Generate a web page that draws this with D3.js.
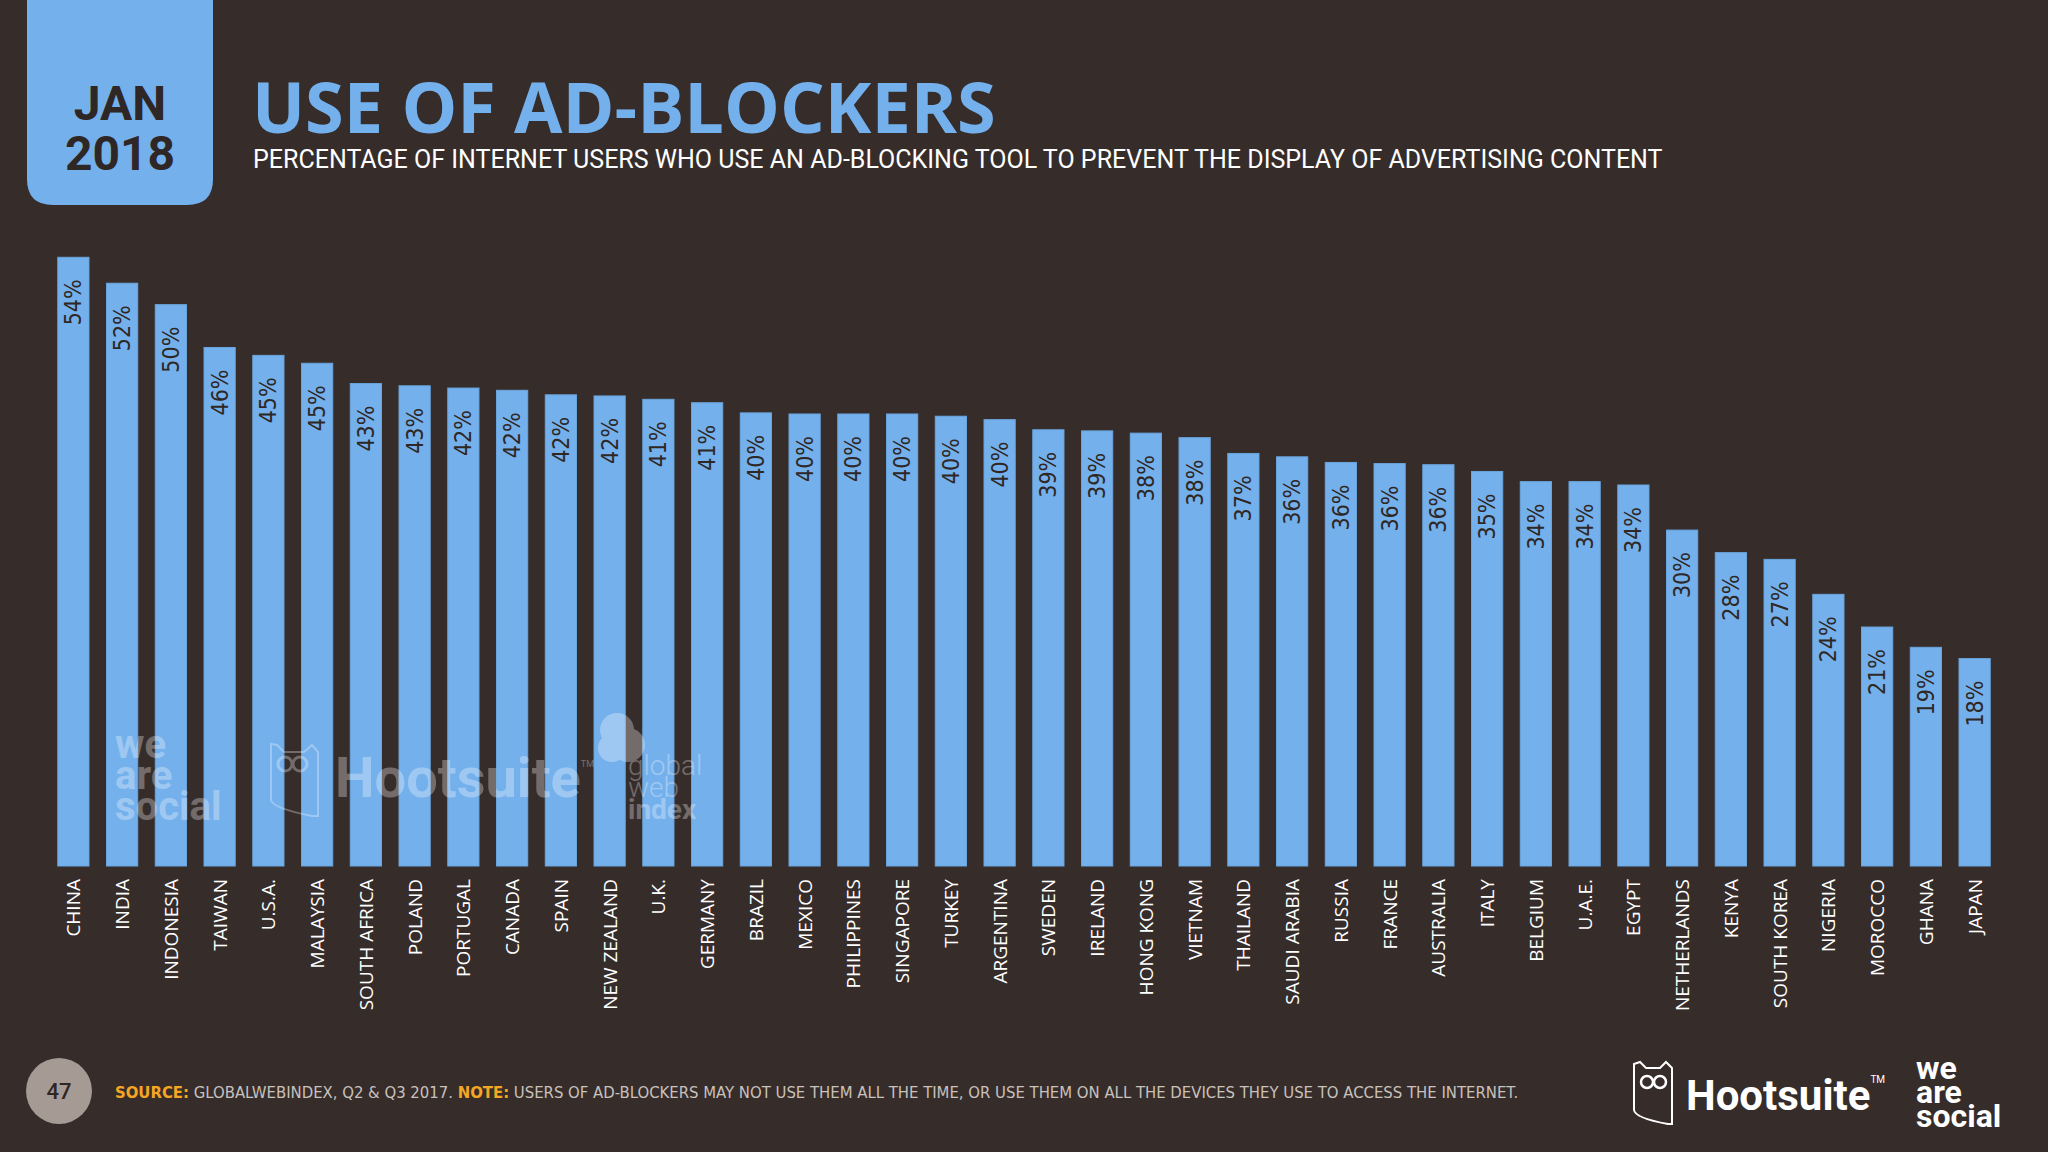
<!DOCTYPE html>
<html><head><meta charset="utf-8">
<script src="https://cdn.jsdelivr.net/npm/d3@7/dist/d3.min.js"></script>
<style>
html,body{margin:0;padding:0;background:#362d2b;overflow:hidden}
svg{display:block}
</style></head>
<body>
<script>
const countries = ["CHINA","INDIA","INDONESIA","TAIWAN","U.S.A.","MALAYSIA","SOUTH AFRICA","POLAND","PORTUGAL","CANADA","SPAIN","NEW ZEALAND","U.K.","GERMANY","BRAZIL","MEXICO","PHILIPPINES","SINGAPORE","TURKEY","ARGENTINA","SWEDEN","IRELAND","HONG KONG","VIETNAM","THAILAND","SAUDI ARABIA","RUSSIA","FRANCE","AUSTRALIA","ITALY","BELGIUM","U.A.E.","EGYPT","NETHERLANDS","KENYA","SOUTH KOREA","NIGERIA","MOROCCO","GHANA","JAPAN"];
const values = [54.0,51.7,49.8,46.0,45.3,44.6,42.8,42.6,42.4,42.2,41.8,41.7,41.4,41.1,40.2,40.1,40.1,40.1,39.9,39.6,38.7,38.6,38.4,38.0,36.6,36.3,35.8,35.7,35.6,35.0,34.1,34.1,33.8,29.8,27.8,27.2,24.1,21.2,19.4,18.4];
const titleText = "USE OF AD-BLOCKERS";
const subtitleText = "PERCENTAGE OF INTERNET USERS WHO USE AN AD-BLOCKING TOOL TO PREVENT THE DISPLAY OF ADVERTISING CONTENT";
const dateLines = ["JAN","2018"];
const pageNumber = "47";
const sourceLabel = "SOURCE:";
const sourceText = " GLOBALWEBINDEX, Q2 & Q3 2017. ";
const noteLabel = "NOTE:";
const noteText = " USERS OF AD-BLOCKERS MAY NOT USE THEM ALL THE TIME, OR USE THEM ON ALL THE DEVICES THEY USE TO ACCESS THE INTERNET.";
const wasLines = ["we","are","social"];
const gwiLines = ["global","web","index"];

const W = 2048, H = 1152;
const BG = "#362d2b", BLUE = "#74b1ec", DARK = "#2f2725";

const svg = d3.select("body").append("svg").attr("width", W).attr("height", H);
svg.append("rect").attr("width", W).attr("height", H).attr("fill", BG);

function fitWidth(sel, target) {
  const len = sel.node().getComputedTextLength();
  const fs = parseFloat(sel.attr("font-size"));
  sel.attr("font-size", (fs * target / len).toFixed(2));
}

// date box
const boxX = 27, boxW = 186, boxH = 205, r = 26;
svg.append("path")
  .attr("d", `M${boxX},0 H${boxX+boxW} V${boxH-r} Q${boxX+boxW},${boxH} ${boxX+boxW-r},${boxH} H${boxX+r} Q${boxX},${boxH} ${boxX},${boxH-r} Z`)
  .attr("fill", BLUE);
const dateT = svg.append("text").attr("text-anchor","middle")
  .attr("font-family","Roboto, 'Open Sans', sans-serif").attr("font-weight",700).attr("font-size",48)
  .attr("fill", DARK);
dateLines.forEach((s,i)=>{
  dateT.append("tspan").attr("x", boxX + boxW/2).attr("y", 120 + i*50).text(s);
});

// title
const t = svg.append("text").attr("x", 252).attr("y", 133)
  .attr("font-family","'Open Sans', Roboto, sans-serif").attr("font-weight",700).attr("font-size",72)
  .attr("fill", BLUE).text(titleText);
fitWidth(t, 744);
const st = svg.append("text").attr("x", 253).attr("y", 168)
  .attr("font-family","Roboto, sans-serif").attr("font-weight",400).attr("font-size",25)
  .attr("fill", "#ffffff").text(subtitleText);
fitWidth(st, 1410);

// scales
const baseY = 866;
const x = d3.scaleBand().domain(countries).range([49, 1999]).paddingInner(0.36).paddingOuter(0.18);
const y = d3.scaleLinear().domain([0, 54]).range([baseY, 257.3]);

// bars
const bars = svg.append("g");
bars.selectAll("rect").data(values).join("rect")
  .attr("x", (d,i) => x(countries[i]))
  .attr("y", d => y(d))
  .attr("width", x.bandwidth())
  .attr("height", d => baseY - y(d))
  .attr("fill", BLUE)
  .attr("stroke", "#6aa5dd").attr("stroke-width", 1);

// watermarks (drawn over bars)
const wm = svg.append("g").attr("fill","#ffffff").attr("opacity",0.3);
const wmw = wm.append("text").attr("font-family","Roboto, sans-serif").attr("font-weight",700).attr("font-size",40);
wasLines.forEach((s,i)=>{ wmw.append("tspan").attr("x",115).attr("y",758+i*31).text(s); });
const wmh = wm.append("text").attr("x",335).attr("y",797).attr("font-family","Roboto, sans-serif")
  .attr("font-weight",700).attr("font-size",56);
wmh.append("tspan").text("Hootsuite");
wmh.append("tspan").attr("font-size",9).attr("font-weight",400).attr("dy",-30).text("TM");
wm.append("path").attr("d","M271,744 L271,800 Q272,808 312,816 L318,816 L318,752 L312,745 L304,752 L284,752 L277,745 Z")
  .attr("fill","none").attr("stroke","#ffffff").attr("stroke-width",2);
wm.append("circle").attr("cx",285).attr("cy",764).attr("r",7).attr("fill","none").attr("stroke","#fff").attr("stroke-width",3);
wm.append("circle").attr("cx",300).attr("cy",764).attr("r",7).attr("fill","none").attr("stroke","#fff").attr("stroke-width",3);
wm.append("circle").attr("cx",617).attr("cy",730).attr("r",17);
wm.append("circle").attr("cx",628).attr("cy",745).attr("r",17);
wm.append("circle").attr("cx",612).attr("cy",748).attr("r",14);
const wmg = wm.append("text").attr("font-family","Roboto, sans-serif").attr("font-size",28);
gwiLines.forEach((s,i)=>{
  wmg.append("tspan").attr("x",628).attr("y",775+i*22).attr("font-weight", i===2?700:300).text(s);
});

// value labels
const fmt = d3.format(".0f");
bars.selectAll("text.val").data(values).join("text").attr("class","val")
  .attr("transform", (d,i) => `translate(${x(countries[i]) + x.bandwidth()/2},${y(d) + 22}) rotate(-90)`)
  .attr("text-anchor","end").attr("dominant-baseline","central")
  .attr("font-family","'Liberation Sans Narrow','DejaVu Sans Condensed',sans-serif")
  .attr("font-size",23).attr("fill", DARK)
  .text(d => fmt(d) + "%");

// category labels
bars.selectAll("text.cat").data(countries).join("text").attr("class","cat")
  .attr("transform", d => `translate(${x(d) + x.bandwidth()/2},${baseY + 13}) rotate(-90)`)
  .attr("text-anchor","end").attr("dominant-baseline","central")
  .attr("font-family","'Open Sans', Roboto, sans-serif")
  .attr("font-size",19).attr("fill", "#ffffff")
  .text(d => d);

// footer
svg.append("circle").attr("cx",59).attr("cy",1091).attr("r",33).attr("fill","#a59b94");
svg.append("text").attr("x",59).attr("y",1091).attr("text-anchor","middle").attr("dominant-baseline","central")
  .attr("font-family","Roboto, sans-serif").attr("font-weight",500).attr("font-size",22).attr("fill",DARK).text(pageNumber);
const src = svg.append("text").attr("x",115).attr("y",1098)
  .attr("font-family","'Liberation Sans Narrow','DejaVu Sans Condensed',sans-serif").attr("font-size",18);
src.append("tspan").attr("fill","#f5a623").attr("font-weight",700).text(sourceLabel);
src.append("tspan").attr("fill","#c9c1bc").text(sourceText);
src.append("tspan").attr("fill","#f5a623").attr("font-weight",700).text(noteLabel);
src.append("tspan").attr("fill","#c9c1bc").text(noteText);
fitWidth(src, 1404);

// logos
const lg = svg.append("g").attr("fill","#ffffff");
lg.append("path").attr("d","M1634,1064 L1634,1110 Q1635,1118 1668,1124 L1672,1124 L1672,1068 L1666,1062 L1660,1068 L1646,1068 L1640,1062 Z")
  .attr("fill","none").attr("stroke","#ffffff").attr("stroke-width",2);
lg.append("circle").attr("cx",1647).attr("cy",1082).attr("r",6).attr("fill","none").attr("stroke","#fff").attr("stroke-width",2.5);
lg.append("circle").attr("cx",1660).attr("cy",1082).attr("r",6).attr("fill","none").attr("stroke","#fff").attr("stroke-width",2.5);
const hs = lg.append("text").attr("x",1686).attr("y",1110).attr("font-family","Roboto, sans-serif")
  .attr("font-weight",700).attr("font-size",42);
hs.append("tspan").text("Hootsuite");
hs.append("tspan").attr("font-size",10).attr("font-weight",400).attr("dy",-27).text("TM");
const was = lg.append("text").attr("font-family","Roboto, sans-serif").attr("font-weight",700).attr("font-size",32);
wasLines.forEach((s,i)=>{ was.append("tspan").attr("x",1916).attr("y",1079+i*24).text(s); });
</script>
</body></html>
